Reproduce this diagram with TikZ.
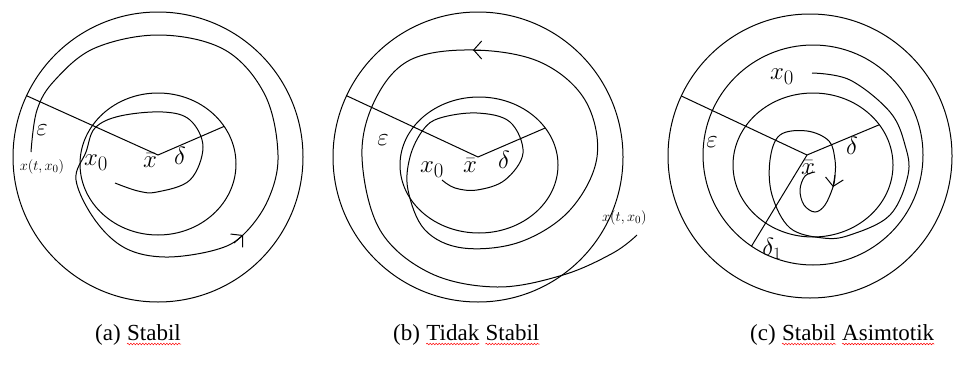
\documentclass[tikz,border=0pt]{standalone}
\usepackage{amsmath}
\usepackage{amssymb}
\usepackage{fontspec}
\setmainfont{Liberation Serif}
\usetikzlibrary{arrows.meta, decorations.pathmorphing, positioning}

\begin{document}
\begin{tikzpicture}[x=1pt, y=1pt, >={Straight Barb[length=8pt, width=18pt]},
    curve/.style={line width=1pt},
    lbl/.style={font=\fontsize{24}{28}\selectfont, inner sep=0pt},
    bigl/.style={font=\fontsize{28}{32}\selectfont, inner sep=0pt},
    smalll/.style={font=\fontsize{15}{18}\selectfont, inner sep=0pt},
    capt/.style={font=\fontsize{23}{27}\selectfont, inner sep=0pt, anchor=base west},
    spell/.style={red, line width=0.5pt, decorate,
        decoration={snake, amplitude=0.8pt, segment length=3pt}}]
    \useasboundingbox (0,0) rectangle (957,376);

    % (a) Stabil
    \begin{scope}[shift={(158,221)}]
        \coordinate (xa) at (0,0);
        \draw[curve] (0,-2) circle (145);
        \draw[curve] (0,-9) ellipse (78 and 71);
        \coordinate (epsA) at ([shift={(0,-2)}]155:145);
        \coordinate (delA) at ([shift={(0,-9)}]32:78 and 71);
        \draw[curve] (epsA) -- (xa) -- (delA);
        % trajectory
        \draw[curve] plot[smooth, tension=0.6] coordinates {
            (-43,-28) (-20,-36) (-1,-37) (32,-25) (45,8) (32,35) (5,43)
            (-38,39) (-63,27) (-72,3) (-82,-25) (-63,-65) (-33,-93)
            (7,-102) (57,-95) (85,-80) (110,-45) (120,0) (107,60)
            (67,105) (2,120) (-63,107) (-103,75) (-121,45) (-127,3)};
        \coordinate (arrA) at (85,-80);
        \draw[curve, ->] (76,-88) -- (arrA);
        \node[lbl] (lepsA) at (-116,25) {$\varepsilon$};
        \node[smalll] (lxtA) at (-116,-12) {$x(t,x_0)$};
        \node[bigl] (lx0A) at (-62,-8) {$x_0$};
        \node[lbl] (lxbA) at (-8,-6) {$\bar{x}$};
        \node[lbl] (ldelA) at (22,-1) {$\delta$};
    \end{scope}

    % (b) Tidak Stabil
    \begin{scope}[shift={(478,219)}]
        \coordinate (xb) at (0,0);
        \draw[curve] (0,0) circle (145);
        \draw[curve] (1,-8) ellipse (79 and 68);
        \coordinate (epsB) at (155:145);
        \coordinate (delB) at ([shift={(1,-8)}]33:79 and 68);
        \draw[curve] (epsB) -- (xb) -- (delB);
        % trajectory
        \draw[curve] plot[smooth, tension=0.6] coordinates {
            (-36,-23) (-23,-31) (-1,-33) (27,-23) (45,4) (32,35) (-1,44)
            (-38,39) (-55,27) (-68,0) (-70,-33) (-53,-73) (-15,-91)
            (42,-85) (92,-53) (119,0) (107,57) (62,95) (-5,107)
            (-68,97) (-103,57) (-116,0) (-98,-73) (-48,-116) (19,-130)
            (85,-118) (135,-96) (159,-78)};
        \coordinate (arrB) at (-5,107);
        \draw[curve, ->] (7,107) -- (arrB);
        \node[lbl] (lepsB) at (-95,17) {$\varepsilon$};
        \node[bigl] (lx0B) at (-46,-13) {$x_0$};
        \node[lbl] (lxbB) at (-8,-9) {$\bar{x}$};
        \node[lbl] (ldelB) at (26,-3) {$\delta$};
        \node[smalll, anchor=west] (lxtB) at (124,-61) {$x(t,x_0)$};
    \end{scope}

    % (c) Stabil Asimtotik
    \begin{scope}[shift={(807,221)}]
        \coordinate (xc) at (0,0);
        \draw[curve] (3,-1) circle (142);
        \draw[curve] (6,0) circle (110);
        \draw[curve] (6,-10) ellipse (80 and 72);
        \coordinate (epsC) at ([shift={(3,-1)}]155:142);
        \coordinate (delC) at ([shift={(6,-10)}]34:80 and 72);
        \coordinate (del1C) at ([shift={(6,0)}]236:110);
        \draw[curve] (epsC) -- (xc) -- (delC);
        \draw[curve] (xc) -- (del1C);
        % trajectory
        \draw[curve] plot[smooth, tension=0.6] coordinates {
            (5,82) (43,75) (83,43) (98,10) (101,-20) (83,-60) (43,-80)
            (16,-83) (-17,-73) (-35,-40) (-37,-5) (-27,20) (0,24)
            (22,14) (28,-5) (28,-20) (26,-32) (18,-50) (8,-57)
            (-3,-50) (-7,-35) (-2,-21) (8,-17)};
        \coordinate (arrC) at (26,-32);
        \draw[curve, ->] (28,-20) -- (arrC);
        \node[bigl] (lx0C) at (-25,78) {$x_0$};
        \node[lbl] (lepsC) at (-95,13) {$\varepsilon$};
        \node[lbl] (ldelC) at (45,9) {$\delta$};
        \node[lbl] (lxbC) at (1,-13) {$\bar{x}$};
        \node[lbl] (ldel1C) at (-35,-94) {$\delta_1$};
    \end{scope}

    % captions
    \node[capt] (capA) at (95,36) {(a)};
    \node[capt, right=6pt of capA.base east, anchor=base west] (capAw) {Stabil};
    \node[capt] (capB) at (393,36) {(b)};
    \node[capt, right=6pt of capB.base east, anchor=base west] (capBw) {Tidak};
    \node[capt, right=6pt of capBw.base east, anchor=base west] (capBv) {Stabil};
    \node[capt] (capC) at (750,36) {(c)};
    \node[capt, right=6pt of capC.base east, anchor=base west] (capCw) {Stabil};
    \node[capt, right=6pt of capCw.base east, anchor=base west] (capCv) {Asimtotik};
    \foreach \w in {capAw, capBw, capBv, capCw, capCv}
        \draw[spell] ([yshift=-4pt]\w.base west) -- ([yshift=-4pt]\w.base east);
\end{tikzpicture}
\end{document}
